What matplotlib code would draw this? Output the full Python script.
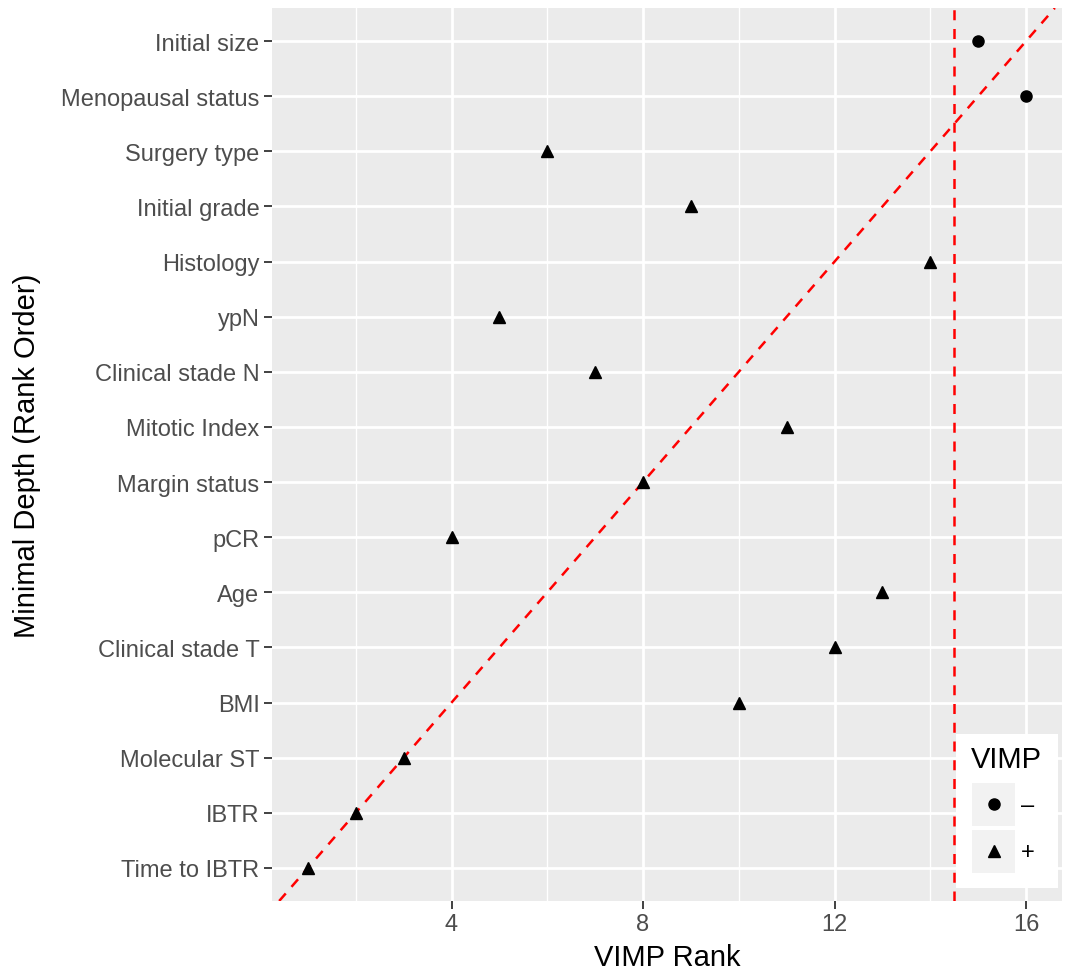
import matplotlib
matplotlib.use("Agg")
import matplotlib.pyplot as plt
from matplotlib.patches import Rectangle
from matplotlib.lines import Line2D

plt.rcParams['font.family'] = ['Liberation Sans', 'DejaVu Sans']

# categories ordered by minimal depth rank (bottom = 1)
variables = ["Time to IBTR", "IBTR", "Molecular ST", "BMI", "Clinical stade T", "Age",
             "pCR", "Margin status", "Mitotic Index", "Clinical stade N", "ypN",
             "Histology", "Initial grade", "Surgery type", "Menopausal status", "Initial size"]
vimp_rank = [1, 2, 3, 10, 12, 13, 4, 8, 11, 7, 5, 14, 9, 6, 16, 15]
vimp_sign = ["+", "+", "+", "+", "+", "+", "+", "+", "+", "+", "+", "+", "+", "+", "-", "-"]
vimp_cut = 14.5
x_ticks = [4, 8, 12, 16]
x_minor = [2, 6, 10, 14]

W, H = 1070, 970
fig = plt.figure(figsize=(W / 100, H / 100), dpi=100)
ax = fig.add_axes([272 / W, 1 - 902 / H, (1062 - 272) / W, (902 - 9) / H])
ax.set_facecolor("#EBEBEB")

n = len(variables)
ypos = list(range(1, n + 1))
ax.set_xlim(0.25, 16.75)
ax.set_ylim(0.4, n + 0.6)

# grid
for xm in x_minor:
    ax.axvline(xm, color="white", lw=1.0, zorder=0)
for xM in x_ticks:
    ax.axvline(xM, color="white", lw=2.0, zorder=0)
for y in ypos:
    ax.axhline(y, color="white", lw=2.0, zorder=0)

# reference lines
ax.plot([0.4, n + 0.6], [0.4, n + 0.6], color="#FF0000", lw=1.8, ls=(0, (4, 3.5)), zorder=2)
ax.axvline(vimp_cut, color="#FF0000", lw=1.8, ls=(0, (4, 3.5)), zorder=2)

for x, y, s in zip(vimp_rank, ypos, vimp_sign):
    if s == "-":
        ax.plot(x, y, marker="o", ms=8, color="black", mec="black", zorder=3)
    else:
        ax.plot(x, y, marker="^", ms=9, color="black", mec="black", zorder=3)

ax.set_xticks(x_ticks)
ax.set_xticklabels([str(t) for t in x_ticks])
ax.set_yticks(ypos)
ax.set_yticklabels(variables)
ax.tick_params(axis="both", colors="#333333", labelcolor="#4D4D4D", labelsize=17,
               length=6, width=1.3, pad=3)
for sp in ax.spines.values():
    sp.set_visible(False)
ax.set_xlabel("VIMP Rank", fontsize=21, color="black", va="center")
ax.set_ylabel("Minimal Depth (Rank Order)", fontsize=21, color="black", va="center")
ax.xaxis.set_label_coords((667 - 272) / 790, (902 - 958) / 893)
ax.yaxis.set_label_coords((27 - 272) / 790, 0.5)

# legend (inside panel, bottom right)
def fx(px):
    return px / W

def fy(py):
    return 1 - py / H

fig.add_artist(Rectangle((fx(956), fy(889)), fx(1058) - fx(956), fy(735) - fy(889),
                         transform=fig.transFigure, facecolor="white", edgecolor="none", zorder=5))
fig.text(fx(971), fy(760), "VIMP", fontsize=21, ha="left", va="center", zorder=6)
keys = [("o", 8, "\u2013", 805), ("^", 9, "+", 852)]
for mk, ms, lab, yc in keys:
    fig.add_artist(Rectangle((fx(972), fy(yc + 21.5)), fx(1015) - fx(972), fy(yc - 21.5) - fy(yc + 21.5),
                             transform=fig.transFigure, facecolor="#F2F2F2", edgecolor="none", zorder=6))
    fig.add_artist(Line2D([fx(993.5)], [fy(yc)], marker=mk, ms=ms, color="black",
                          transform=fig.transFigure, zorder=7))
    fig.text(fx(1021), fy(yc + 1), lab, fontsize=17, ha="left", va="center", zorder=7)

fig.savefig("out.png", dpi=100)
